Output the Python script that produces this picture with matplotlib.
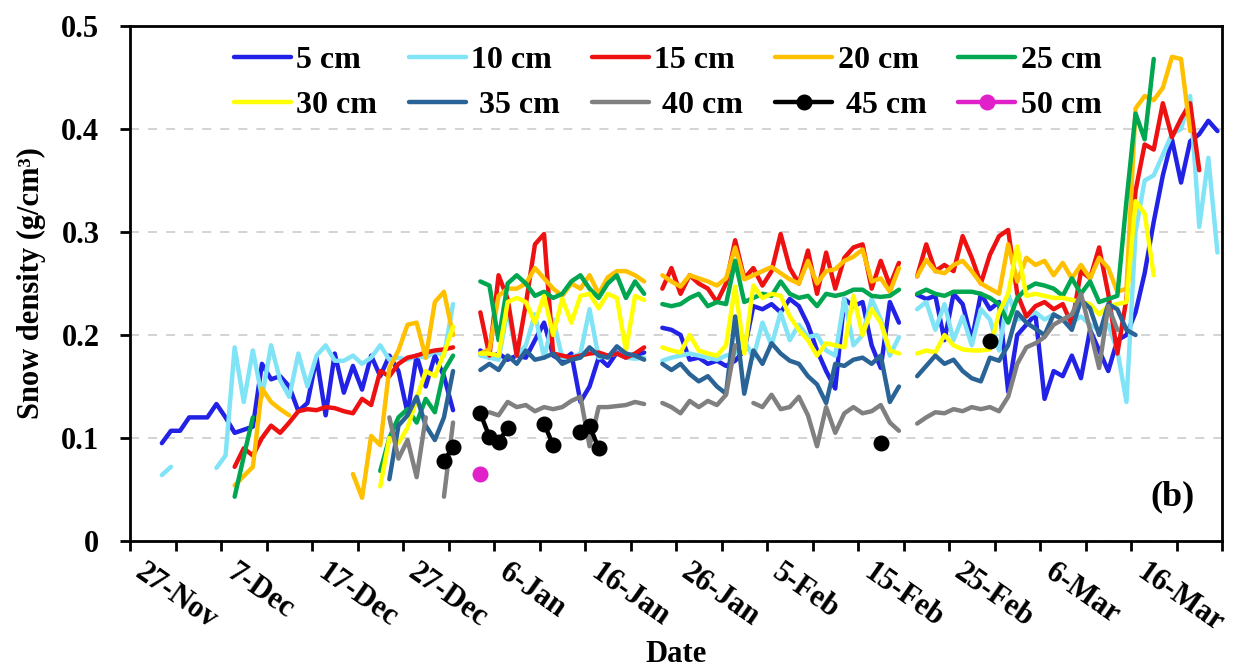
import numpy as np
import pandas as pd
import matplotlib
matplotlib.use("Agg")
import matplotlib.pyplot as plt

# Snow density (g/cm3) by depth, one value per day (None = no measurement).
# Each series: first date, then daily values.
start_5 = "2019-11-30"
d5 = [0.095, 0.107, 0.107, 0.120, 0.120, 0.120, 0.133, 0.120, 0.105, 0.108, 0.111,
      0.172, 0.157, 0.160, 0.150, 0.126, 0.134, 0.178, 0.122, 0.182, 0.144, 0.170,
      0.147, 0.180, 0.160, 0.180, 0.165, 0.124, 0.180, 0.150, 0.180, 0.160, 0.127,
      None, None,
      0.185, 0.178, 0.182, 0.176, 0.180, 0.178, 0.195, 0.212, 0.180, 0.175, 0.182,
      0.135, 0.150, 0.178, 0.170, 0.183, 0.178, 0.180, 0.183,
      None,
      0.207, 0.205, 0.200, 0.176, 0.178, 0.172, 0.175, 0.170, 0.175, 0.185, 0.228,
      0.225, 0.230, 0.222, 0.235, 0.228, 0.210, 0.185, 0.165, 0.148, 0.235, 0.228,
      0.232, 0.190, 0.168, 0.232, 0.212,
      None,
      0.239, 0.235, 0.238, 0.195, 0.240, 0.230, 0.195, 0.240, 0.225, 0.232, 0.145,
      0.200, 0.210, 0.220, 0.138, 0.165, 0.160, 0.180, 0.158, 0.205, 0.185, 0.165,
      0.195, 0.200, 0.222, 0.260, 0.310, 0.355, 0.390, 0.348, 0.388, 0.395, 0.408,
      0.398]

start_10 = "2019-11-30"
d10 = [0.064, 0.072, None, None, None, None, 0.071, 0.083, 0.188, 0.135, 0.185,
       0.140, 0.190, 0.156, 0.140, 0.182, 0.150, 0.180, 0.190, 0.175, 0.175, 0.180,
       0.172, 0.178, 0.190, 0.176, 0.178, 0.176, 0.180, 0.178, 0.184, 0.180, 0.230,
       None, None,
       0.180, 0.178, 0.176, 0.225, 0.180, 0.190, 0.220, 0.178, 0.215, 0.178, 0.178,
       0.182, 0.225, 0.178, 0.180, 0.182, 0.178, 0.177, 0.178,
       None,
       0.175, 0.178, 0.180, 0.182, 0.180, 0.178, 0.176, 0.180, 0.182, 0.195, 0.178,
       0.212, 0.190, 0.222, 0.195, 0.210, 0.198, 0.200, 0.185, 0.180, 0.235, 0.190,
       0.200, 0.235, 0.215, 0.180, 0.198,
       None,
       0.225, 0.232, 0.205, 0.230, 0.195, 0.218, 0.190, 0.225, 0.215, 0.185, 0.240,
       0.215, 0.218, 0.222, 0.215, 0.220, 0.215, 0.212, 0.218, 0.210, 0.205, 0.210,
       0.185, 0.135, 0.300, 0.350, 0.355, 0.375, 0.395, 0.400, 0.432, 0.305, 0.372,
       0.280]

start_15 = "2019-12-08"
d15 = [0.072, 0.090, 0.083, 0.100, 0.112, 0.105, 0.115, 0.126, 0.128, 0.127, 0.130,
       0.129, 0.126, 0.124, 0.138, 0.132, 0.165, 0.160, 0.172, 0.178, 0.180, 0.183,
       0.185, 0.186, 0.188,
       None, None,
       0.222, 0.180, 0.258, 0.235, 0.180, 0.230, 0.288, 0.298, 0.182, 0.180, 0.178,
       0.180, 0.182, 0.183, 0.180, 0.182, 0.178, 0.182, 0.188,
       None,
       0.245, 0.265, 0.240, 0.258, 0.250, 0.245, 0.232, 0.250, 0.292, 0.255, 0.265,
       0.248, 0.262, 0.298, 0.265, 0.250, 0.282, 0.240, 0.280, 0.245, 0.275, 0.285,
       0.288, 0.245, 0.272, 0.248, 0.270,
       None,
       0.257, 0.288, 0.262, 0.268, 0.262, 0.296, 0.275, 0.250, 0.278, 0.296, 0.302,
       0.240, 0.218, 0.228, 0.232, 0.225, 0.230, 0.210, 0.262, 0.255, 0.285, 0.240,
       0.182, 0.235, 0.340, 0.385, 0.380, 0.425, 0.392, 0.410, 0.425, 0.360]

start_20 = "2019-12-08"
d20 = [0.054, 0.063, 0.072, 0.148, 0.135, 0.128, 0.122,
       None, None, None, None, None, None,
       0.065, 0.042, 0.102, 0.093, 0.168, 0.185, 0.210, 0.212, 0.178, 0.232, 0.242,
       0.200,
       None, None,
       0.182, 0.186, 0.238, 0.245, 0.245, 0.250, 0.265, 0.255, 0.245, 0.238, 0.250,
       0.245, 0.258, 0.240, 0.256, 0.262, 0.262, 0.258, 0.252,
       None,
       0.258, 0.252, 0.247, 0.258, 0.255, 0.252, 0.248, 0.255, 0.285, 0.254, 0.258,
       0.262, 0.266, 0.260, 0.254, 0.250, 0.272, 0.250, 0.262, 0.264, 0.272, 0.276,
       0.283, 0.252, 0.255, 0.242, 0.265,
       None,
       0.257, 0.273, 0.262, 0.260, 0.268, 0.272, 0.262, 0.250, 0.245, 0.240, 0.288,
       0.252, 0.275, 0.268, 0.272, 0.258, 0.270, 0.255, 0.268, 0.255, 0.275, 0.265,
       0.242, 0.245, 0.420, 0.432, 0.428, 0.440, 0.470, 0.468, 0.398]

start_25 = "2019-12-08"
d25 = [0.043, 0.082, 0.120,
       None, None, None, None, None, None, None, None, None, None, None, None, None,
       0.068, 0.100, 0.120, 0.128, 0.115, 0.138, 0.125, 0.165, 0.180,
       None, None,
       0.252, 0.248, 0.195, 0.250, 0.258, 0.250, 0.238, 0.242, 0.236, 0.240, 0.252,
       0.258, 0.245, 0.236, 0.250, 0.258, 0.236, 0.252, 0.240,
       None,
       0.230, 0.228, 0.230, 0.236, 0.240, 0.228, 0.232, 0.230, 0.272, 0.232, 0.236,
       0.240, 0.238, 0.252, 0.240, 0.236, 0.238, 0.228, 0.240, 0.238, 0.240, 0.244,
       0.244, 0.238, 0.237, 0.238, 0.244,
       None,
       0.240, 0.244, 0.240, 0.238, 0.242, 0.242, 0.242, 0.240, 0.236, 0.230, 0.212,
       0.236, 0.245, 0.250, 0.248, 0.245, 0.238, 0.255, 0.240, 0.252, 0.232, 0.235,
       0.238, 0.330, 0.415, 0.390, 0.468]

start_30 = "2019-12-24"
d30 = [0.053, 0.100, 0.095, 0.110, 0.138, 0.165, 0.160, 0.182, 0.208,
       None, None,
       0.182, 0.182, 0.180, 0.232, 0.236, 0.232, 0.212, 0.238, 0.200, 0.235, 0.212,
       0.238, 0.240, 0.226, 0.240, 0.236, 0.185, 0.238, 0.234,
       None,
       0.188, 0.185, 0.183, 0.200, 0.185, 0.182, 0.180, 0.190, 0.247, 0.182, 0.248,
       0.236, 0.240, 0.238, 0.218, 0.205, 0.195, 0.180, 0.192, 0.190, 0.188, 0.238,
       0.200, 0.225, 0.212, 0.185, 0.182,
       None,
       0.182, 0.185, 0.183, 0.200, 0.190, 0.186, 0.185, 0.185, 0.186, 0.222, 0.240,
       0.286, 0.238, 0.240, 0.238, 0.236, 0.236, 0.234, 0.232, 0.230, 0.220, 0.228,
       0.230, 0.232, 0.330, 0.318, 0.258]

start_35 = "2019-12-25"
d35 = [0.060, 0.112, 0.122, 0.140, 0.112, 0.098, 0.120, 0.165,
       None, None,
       0.166, 0.172, 0.166, 0.180, 0.172, 0.185, 0.176, 0.178, 0.182, 0.172, 0.176,
       0.178, 0.188, 0.180, 0.178, 0.189, 0.182, 0.180, 0.176,
       None,
       0.172, 0.166, 0.172, 0.162, 0.155, 0.160, 0.150, 0.143, 0.218, 0.143, 0.185,
       0.172, 0.192, 0.182, 0.175, 0.172, 0.160, 0.152, 0.134, 0.172, 0.170, 0.176,
       0.178, 0.172, 0.180, 0.135, 0.150,
       None,
       0.160, 0.170, 0.180, 0.172, 0.176, 0.165, 0.158, 0.155, 0.178, 0.175, 0.190,
       0.222, 0.212, 0.206, 0.200, 0.220, 0.215, 0.205, 0.234, 0.226, 0.200, 0.230,
       0.225, 0.205, 0.200]

start_40 = "2019-12-25"
d40 = [0.120, 0.080, 0.098, 0.062, 0.120, None, 0.043, 0.115,
       None, None, None,
       0.125, 0.122, 0.135, 0.130, 0.132, 0.126, 0.130, 0.128, 0.130, 0.136, 0.140,
       0.092, 0.130, 0.130, 0.131, 0.132, 0.135, 0.133,
       None,
       0.134, 0.130, 0.124, 0.136, 0.130, 0.136, 0.132, 0.142, 0.190, None, 0.134,
       0.130, 0.142, 0.128, 0.130, 0.140, 0.122, 0.092, 0.130, 0.105, 0.124, 0.130,
       0.124, 0.126, 0.132, 0.115, 0.107,
       None,
       0.114, 0.120, 0.125, 0.124, 0.128, 0.126, 0.130, 0.128, 0.130, 0.126, 0.140,
       0.172, 0.188, 0.192, 0.198, 0.210, 0.215, 0.220, 0.240, 0.205, 0.168, 0.228,
       0.205]

start_45 = "2019-12-31"
d45 = ([0.078, 0.091, None, None, 0.124, 0.101, 0.096, 0.110, None, None, None,
        0.114, 0.093, None, None, 0.106, 0.112, 0.090]
       + [None] * 30 + [0.095] + [None] * 11 + [0.194])

start_50 = "2020-01-04"
d50 = [0.065]

labels = ["5 cm", "10 cm", "15 cm", "20 cm", "25 cm",
          "30 cm", " 35 cm", " 40 cm", " 45 cm", "50 cm"]
starts = [start_5, start_10, start_15, start_20, start_25,
          start_30, start_35, start_40, start_45, start_50]
values = [d5, d10, d15, d20, d25, d30, d35, d40, d45, d50]
colors = ["#2222E6", "#80E4F6", "#EE1111", "#FFC000", "#00A650",
          "#FFFF00", "#2A6496", "#808080", "#000000", "#E020C8"]
markers = [None] * 8 + ["o", "o"]

plt.rcParams["font.family"] = ["Liberation Serif", "DejaVu Serif"]
plt.rcParams["font.weight"] = "bold"
plt.rcParams["axes.labelweight"] = "bold"
FS = 22

fig = plt.figure(figsize=(12.33, 6.71), dpi=100)
ax = fig.add_axes([130 / 1233, 1 - 541 / 671, 1092 / 1233, 515 / 671])

handles = []
for lab, st, vals, col, mk in zip(labels, starts, values, colors, markers):
    dates = pd.date_range(pd.Timestamp(st) + pd.Timedelta(hours=12),
                          periods=len(vals), freq="D")
    y = np.array([np.nan if v is None else v for v in vals], dtype=float)
    h, = ax.plot(dates, y, color=col, lw=3.2, label=lab, marker=mk,
                 markersize=10.5, solid_capstyle="round")
    handles.append(h)

x0 = pd.Timestamp("2019-11-27")
x1 = pd.Timestamp("2020-03-26")
ax.set_xlim(x0, x1)
ax.set_ylim(0, 0.5)

ticks = pd.date_range(x0, x1, freq="5D")
ax.set_xticks(ticks)
ax.set_xticklabels([f"{t.day}-{t.strftime('%b')}" if i % 2 == 0 and t < x1 - pd.Timedelta(days=5)
                    else "" for i, t in enumerate(ticks)],
                   rotation=-35, ha="left", va="top", rotation_mode="default")

ax.set_yticks([0, 0.1, 0.2, 0.3, 0.4, 0.5])
ax.set_yticklabels(["0", "0.1", "0.2", "0.3", "0.4", "0.5"])
ax.tick_params(axis="both", direction="out", length=7, width=2, labelsize=FS)
ax.tick_params(axis="x", pad=5)
ax.tick_params(axis="y", pad=15)

ax.yaxis.grid(True, linestyle=(0, (5, 5)), color="#D0D0D0", lw=1.3)
ax.set_axisbelow(True)
for s in ax.spines.values():
    s.set_linewidth(2)

ax.set_ylabel("Snow density (g/cm³)", fontsize=FS)
ax.yaxis.set_label_coords(-0.077, 0.5)
fig.text(676 / 1233, 1 - 655 / 671, "Date", ha="center", va="center",
         fontsize=FS, fontweight="bold")
ax.text(0.955, 0.085, "(b)", transform=ax.transAxes, ha="center", va="center",
        fontsize=26, fontweight="bold")

# legend filled row by row
order = [0, 5, 1, 6, 2, 7, 3, 8, 4, 9]
ax.legend([handles[i] for i in order], [labels[i] for i in order],
          ncol=5, loc="upper left", bbox_to_anchor=(0.095, 0.962), frameon=False,
          fontsize=23, handlelength=1.8, handletextpad=0.16, columnspacing=0.99,
          labelspacing=0.5, borderpad=0, borderaxespad=0)

fig.savefig("out.png", dpi=100)
